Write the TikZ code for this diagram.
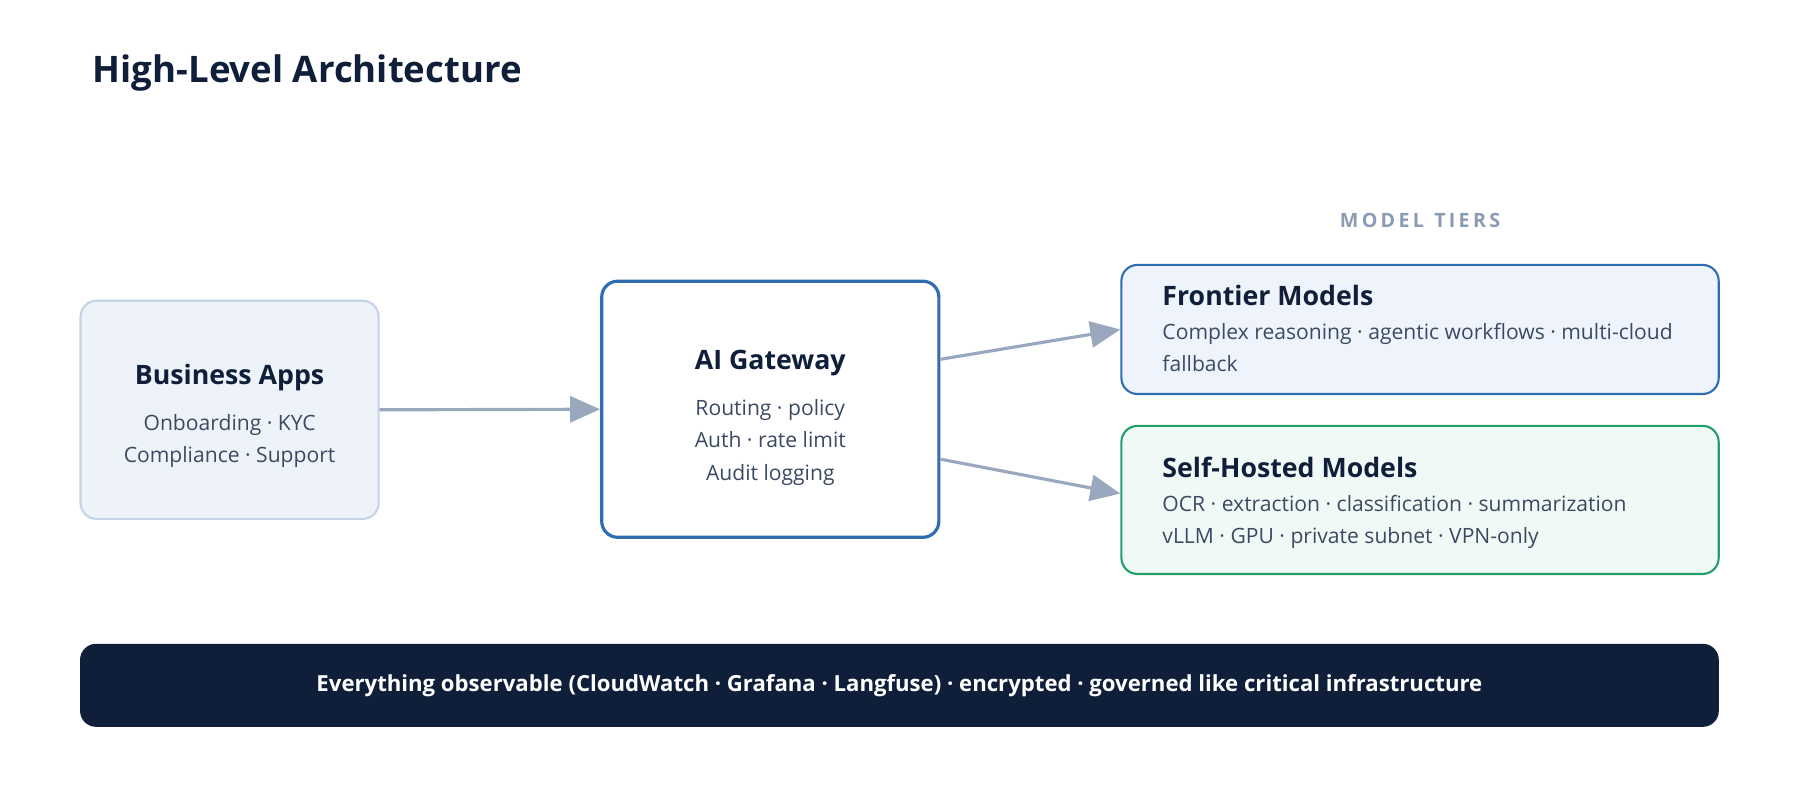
\documentclass[tikz,border=0pt]{standalone}
\usepackage{fontspec}
\setmainfont{Open Sans}
\usetikzlibrary{positioning,arrows.meta}
\definecolor{ink}{HTML}{0F1F3A}
\definecolor{body}{HTML}{3B4A63}
\definecolor{wire}{HTML}{9AA8BE}
\definecolor{blueline}{HTML}{2F6DB0}
\definecolor{greenline}{HTML}{22A06B}
\definecolor{appfill}{HTML}{EEF2F9}
\definecolor{appline}{HTML}{C5D3E6}
\definecolor{frontfill}{HTML}{EFF4FC}
\definecolor{selffill}{HTML}{F0F9F5}
\definecolor{tiergray}{HTML}{8A9BB4}
\tikzset{
  box/.style={rounded corners=0.16cm, inner sep=0pt},
  head/.style={font=\fontsize{7.6}{9}\selectfont\bfseries, text=ink},
  line/.style={font=\fontsize{6}{9.2}\selectfont, text=body, align=center},
  flow/.style={draw=wire, line width=0.9pt, -{Triangle[length=0.3cm,width=0.26cm]}}
}
\begin{document}
\begin{tikzpicture}[x=0.01148cm, y=-0.01148cm]
\useasboundingbox (0,0) rectangle (1568,697);
\node[anchor=base west, font=\fontsize{10.4}{12}\selectfont\bfseries, text=ink] (title) at (70,72) {High-Level Architecture};

% boxes
\node[box, draw=appline, fill=appfill, line width=0.6pt, minimum width=2.98cm, minimum height=2.18cm] (apps) at (200,357) {};
\node[box, draw=blueline, fill=white, line width=0.9pt, minimum width=3.37cm, minimum height=2.56cm] (gw) at (671,356.5) {};
\node[box, draw=blueline, fill=frontfill, line width=0.6pt, minimum width=5.97cm, minimum height=1.29cm] (front) at (1237,287) {};
\node[box, draw=greenline, fill=selffill, line width=0.6pt, minimum width=5.97cm, minimum height=1.48cm] (self) at (1237,435.5) {};
\node[box, fill=ink, minimum width=16.38cm, minimum height=0.83cm] (bar) at (783.5,597) {};

% texts
\node[head, anchor=base] (appsT) at (200,335) {Business Apps};
\node[line, anchor=north] (appsL) at (200,350) {Onboarding · KYC\\Compliance · Support};
\node[head, anchor=base] (gwT) at (671,322) {AI Gateway};
\node[line, anchor=north] (gwL) at (671,337) {Routing · policy\\Auth · rate limit\\Audit logging};
\node[font=\fontsize{5.6}{7}\selectfont\bfseries, text=tiergray, anchor=base] (tiers) at (1237,198) {M\,O\,D\,E\,L\ \ T\,I\,E\,R\,S};
\node[head, anchor=base west, inner sep=0pt] (frontT) at (1012,266) {Frontier Models};
\node[line, align=left, anchor=north west, inner sep=0pt] (frontL) at (1012,281) {Complex reasoning · agentic workflows · multi-cloud\\fallback};
\node[head, anchor=base west, inner sep=0pt] (selfT) at (1012,416) {Self-Hosted Models};
\node[line, align=left, anchor=north west, inner sep=0pt] (selfL) at (1012,431) {OCR · extraction · classification · summarization\\vLLM · GPU · private subnet · VPN-only};
\node[font=\fontsize{6.3}{8}\selectfont\bfseries, text=white] (barT) at (bar) {Everything observable (CloudWatch · Grafana · Langfuse) · encrypted · governed like critical infrastructure};

% connectors
\draw[flow] (apps.east) -- (gw.west);
\draw[flow] (gw.east |- 0,313) -- (front.west |- 0,287);
\draw[flow] (gw.east |- 0,400) -- (self.west |- 0,430);
\end{tikzpicture}
\end{document}
